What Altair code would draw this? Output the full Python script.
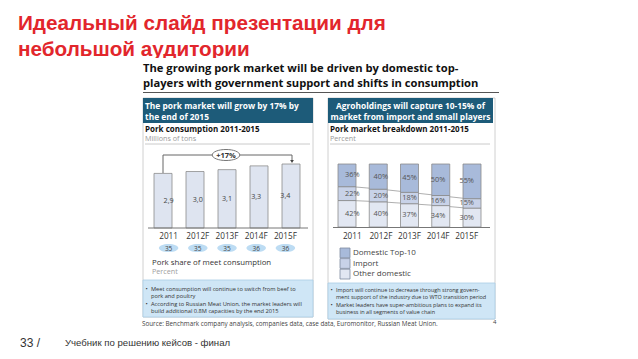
import altair as alt
import pandas as pd

# ---------------- data ----------------
years = ["2011", "2012F", "2013F", "2014F", "2015F"]
consumption = [2.9, 3.0, 3.1, 3.3, 3.4]
consumption_labels = ["2,9", "3,0", "3,1", "3,3", "3,4"]
pork_share = [35, 35, 35, 36, 36]
top10 = [36, 40, 45, 50, 55]
imports = [22, 20, 18, 16, 15]
other = [42, 40, 37, 34, 30]
segments = ["Domestic Top-10", "Import", "Other domestic"]
seg_colors = ["#a8bada", "#c8d2e8", "#e2e7f2"]

left_bullets = [
    ("•", "Meet consumption will continue to switch from beef to"),
    ("", "pork and poultry"),
    ("•", "According to Russian Meat Union, the market leaders will"),
    ("", "build additional 0.8M capacities by the end 2015"),
]
right_bullets = [
    ("•", "Import will continue to decrease through strong govern-"),
    ("", "ment support of the industry due to WTO transition period"),
    ("•", "Market leaders have super-ambitious plans to expand its"),
    ("", "business in all segments of value chain"),
]

# ---------------- helpers ----------------
OX, OY = 8, 8
def px(x): return x - OX
def py(y): return y - OY

one = pd.DataFrame({"k": [0]})
SF = "Open Sans"

def txt(s, x, y, size, color="#222", weight="normal", align="left", font=SF, baseline="middle"):
    return alt.Chart(pd.DataFrame({"t": [s]})).mark_text(
        align=align, baseline=baseline, fontSize=size, color=color,
        fontWeight=weight, font=font
    ).encode(x=alt.value(px(x)), y=alt.value(py(y)), text="t:N")

def rect(x1, y1, x2, y2, fill, stroke=None, sw=1.0):
    kw = dict(fill=fill)
    if stroke:
        kw.update(stroke=stroke, strokeWidth=sw)
    return alt.Chart(one).mark_rect(**kw).encode(
        x=alt.value(px(x1)), x2=alt.value(px(x2)),
        y=alt.value(py(y1)), y2=alt.value(py(y2)))

def rule(x1, y1, x2, y2, color, sw=1.0):
    return alt.Chart(one).mark_rule(color=color, strokeWidth=sw).encode(
        x=alt.value(px(x1)), x2=alt.value(px(x2)),
        y=alt.value(py(y1)), y2=alt.value(py(y2)))

def ellipse_path(r):
    return f"M -1 0 A 1 {r} 0 1 1 1 0 A 1 {r} 0 1 1 -1 0 Z"

layers = []

# ---------------- red slide title ----------------
RED = "#e2262c"
layers.append(txt("Идеальный слайд презентации для", 18, 24, 20.7, RED, "bold", font="Liberation Sans"))
layers.append(txt("небольшой аудитории", 18, 50, 20.7, RED, "bold", font="Liberation Sans"))
# embedded slide background covering title descenders
layers.append(rect(135, 58, 512, 334, "white"))

# slide title
layers.append(txt("The growing pork market will be driven by domestic top-", 143, 69, 11.2, "#111", "bold"))
layers.append(txt("players with government support and shifts in consumption", 143, 84, 11.2, "#111", "bold"))
layers.append(rule(143, 92.5, 499, 92.5, "#555", 1.2))

HEAD = "#1d5b79"
BLUE = "#cfe6f6"
BORDER = "#c4c4c4"

# ---------------- left panel ----------------
layers.append(rect(143, 98, 313, 317, "white", BORDER, 0.8))
layers.append(rect(143, 98, 313, 123, HEAD))
layers.append(txt("The pork market will grow by 17% by", 145, 105.5, 8.4, "white", "bold"))
layers.append(txt("the end of 2015", 145, 116.5, 8.4, "white", "bold"))
layers.append(txt("Pork consumption 2011-2015", 145, 130, 8, "#111", "bold"))
layers.append(txt("Millions of tons", 145, 138.5, 7.2, "#9a9a9a"))
layers.append(rule(145, 144, 310, 144, "#bdbdbd", 0.8))

left_df = pd.DataFrame({"year": years, "value": consumption,
                        "label": consumption_labels, "share": pork_share})
xL = alt.X("year:N", sort=years, axis=None,
           scale=alt.Scale(range=[px(154), px(300)], paddingInner=0.4375, paddingOuter=0))
yscaleL = alt.Scale(domain=[0, 3.4], range=[py(228), py(164)])

layers.append(alt.Chart(left_df).mark_bar(fill="#dee4f0", stroke="#8c8c8c", strokeWidth=0.8)
              .encode(x=xL, y=alt.Y("value:Q", axis=None, scale=yscaleL)))
layers.append(alt.Chart(left_df).transform_calculate(mid="datum.value / 2")
              .mark_text(fontSize=7.2, color="#444", font=SF)
              .encode(x=xL, y=alt.Y("mid:Q", axis=None, scale=yscaleL), text="label:N"))
layers.append(rule(148, 228, 308, 228, "#777", 1))

# bracket +17%
layers.append(rule(163, 173, 163, 155, "#666", 1))
layers.append(rule(163, 155, 292, 155, "#666", 1))
layers.append(rule(292, 155, 292, 160, "#666", 1))
layers.append(alt.Chart(one).mark_point(shape="triangle-down", size=14, filled=True, color="#444", opacity=1)
              .encode(x=alt.value(px(292)), y=alt.value(py(161.5))))
layers.append(alt.Chart(one).mark_point(shape=ellipse_path(0.4), size=760, filled=False,
                                        fill="white", fillOpacity=1, stroke="#777", strokeWidth=1, opacity=1)
              .encode(x=alt.value(px(226)), y=alt.value(py(155))))
layers.append(txt("+17%", 226, 155.5, 7.5, "#333", "bold", align="center"))

# years + share ellipses
layers.append(alt.Chart(left_df).mark_text(fontSize=8.2, color="#333", font=SF)
              .encode(x=xL, y=alt.value(py(237)), text="year:N"))
layers.append(alt.Chart(left_df).mark_point(shape=ellipse_path(0.42), size=380, filled=True,
                                            color="#bddcf3", opacity=1)
              .encode(x=xL, y=alt.value(py(248))))
layers.append(alt.Chart(left_df).mark_text(fontSize=6.5, color="#444", font=SF)
              .encode(x=xL, y=alt.value(py(248.5)), text="share:Q"))
layers.append(txt("Pork share of meet consumption", 152, 263, 7.8, "#333"))
layers.append(txt("Percent", 152, 272, 7.2, "#a0a0a0"))

# blue box left
layers.append(rect(143, 280, 313, 317, BLUE, "#a9cde6", 0.8))
for i, (b, t) in enumerate(left_bullets):
    yy = 289 + i * 7.4
    if b:
        layers.append(txt(b, 145.5, yy, 6, "#333"))
    layers.append(txt(t, 151, yy, 5.7, "#333"))

# ---------------- right panel ----------------
layers.append(rect(328, 98, 495, 319, "white", BORDER, 0.8))
layers.append(rect(328, 98, 493, 123, HEAD))
layers.append(txt("Agroholdings will capture 10-15% of", 410.5, 105.5, 8.4, "white", "bold", align="center"))
layers.append(txt("market from import and small players", 410.5, 116.5, 8.4, "white", "bold", align="center"))
layers.append(txt("Pork market breakdown 2011-2015", 330, 130, 8, "#111", "bold"))
layers.append(txt("Percent", 330, 138.5, 7.2, "#9a9a9a"))
layers.append(rule(330, 144, 490, 144, "#bdbdbd", 0.8))

rows = []
for i, y in enumerate(years):
    base = 0
    for seg, vals in (("Other domestic", other), ("Import", imports), ("Domestic Top-10", top10)):
        v = vals[i]
        rows.append(dict(year=y, seg=seg, value=v, lo=base, hi=base + v,
                         mid=base + v / 2, label=f"{v}%"))
        base += v
right_df = pd.DataFrame(rows)

line_rows = []
for i, y in enumerate(years):
    line_rows.append(dict(year=y, series="b1", v=other[i]))
    line_rows.append(dict(year=y, series="b2", v=other[i] + imports[i]))
line_df = pd.DataFrame(line_rows)

xR = alt.X("year:N", sort=years, axis=None,
           scale=alt.Scale(range=[px(338), px(481)], paddingInner=0.424, paddingOuter=0))
yscaleR = alt.Scale(domain=[0, 100], range=[py(227), py(164)])
color_scale = alt.Scale(domain=segments, range=seg_colors)

layers.append(alt.Chart(line_df).mark_line(color="#9a9a9a", strokeWidth=0.8)
              .encode(x=xR, y=alt.Y("v:Q", axis=None, scale=yscaleR), detail="series:N"))
layers.append(alt.Chart(right_df).mark_bar(stroke="#8c8c8c", strokeWidth=0.8, opacity=1)
              .encode(x=xR,
                      y=alt.Y("lo:Q", axis=None, scale=yscaleR),
                      y2="hi:Q",
                      color=alt.Color("seg:N", scale=color_scale, legend=None)))
layers.append(alt.Chart(right_df).mark_text(fontSize=7.4, color="#555", font=SF)
              .encode(x=xR, y=alt.Y("mid:Q", axis=None, scale=yscaleR), text="label:N"))
layers.append(rule(333, 227.5, 490, 227.5, "#777", 1))
layers.append(alt.Chart(left_df).mark_text(fontSize=8.2, color="#333", font=SF)
              .encode(x=xR, y=alt.value(py(237)), text="year:N"))

# legend (manual)
leg_df = pd.DataFrame({"seg": segments})
leg_y = alt.Y("seg:N", sort=segments, axis=None,
              scale=alt.Scale(range=[py(248), py(279)], paddingInner=0.08, paddingOuter=0))
layers.append(alt.Chart(leg_df).mark_rect(stroke="#7d8aa0", strokeWidth=0.8, opacity=1)
              .encode(x=alt.value(px(340)), x2=alt.value(px(350)), y=leg_y,
                      color=alt.Color("seg:N", scale=color_scale, legend=None)))
layers.append(alt.Chart(leg_df).mark_text(align="left", fontSize=8, color="#444", font=SF)
              .encode(x=alt.value(px(353)), y=leg_y, text="seg:N"))

# blue box right
layers.append(rect(328, 283, 495, 319, BLUE, "#a9cde6", 0.8))
for i, (b, t) in enumerate(right_bullets):
    yy = 290 + i * 7.4
    if b:
        layers.append(txt(b, 330.5, yy, 6, "#333"))
    layers.append(txt(t, 336, yy, 5.5, "#333"))

# source & page number
layers.append(txt("Source:  Benchmark company analysis, companies data, case data, Euromonitor, Russian Meat Union.",
                  142, 323.5, 6.3, "#444"))
layers.append(txt("4", 493, 322, 6, "#444"))

# footer
layers.append(txt("33 /", 20, 343, 12, "#333", font="Liberation Sans"))
layers.append(txt("Учебник по решению кейсов  - финал", 65, 343, 9.6, "#333", font="Liberation Sans"))

chart = alt.layer(*layers).resolve_scale(x="independent", y="independent").properties(
    width=622, height=343, padding=0, autosize=alt.AutoSizeParams(type="none")
).configure_view(strokeWidth=0)

chart.save("out.html", embed_options={"renderer": "svg", "actions": False})
